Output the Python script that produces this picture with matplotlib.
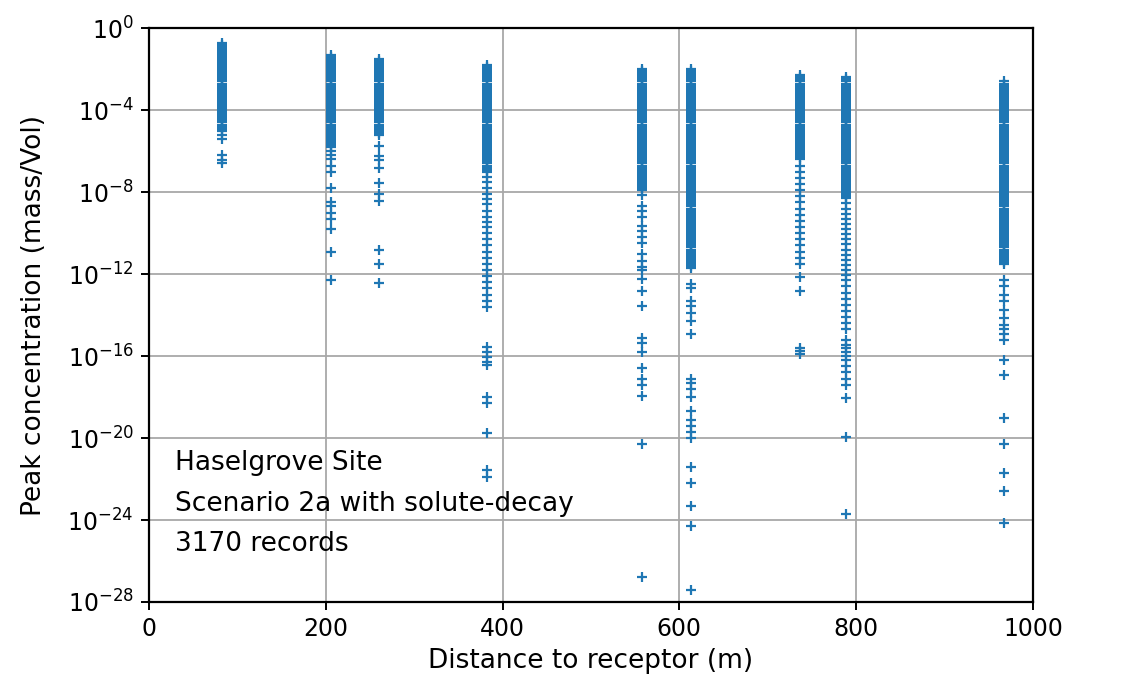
import matplotlib
matplotlib.use("Agg")
import matplotlib.pyplot as plt
from matplotlib.ticker import NullLocator
import numpy as np

# Receptor distances (m) and log10 of the peak concentrations recorded at each
distances = [83, 206, 260, 382, 558, 613, 736, 788, 967]

exp_83 = [-0.7, -0.8, -0.9, -1.0, -1.1, -1.2, -1.3, -1.4, -1.5, -1.6, -1.7, -1.8, -1.9,
          -2.0, -2.1, -2.2, -2.3, -2.4, -2.5, -2.6, -2.7, -2.8, -2.9, -3.0, -3.1, -3.2,
          -3.3, -3.4, -3.5, -3.6, -3.7, -3.8, -3.9, -4.0, -4.1, -4.2, -4.3, -4.4, -4.5,
          -4.6, -4.7, -4.8, -4.9, -5.0, -5.2, -5.4, -6.2, -6.45, -6.6]

exp_206 = [-1.3, -1.4, -1.5, -1.6, -1.7, -1.8, -1.9, -2.0, -2.1, -2.2, -2.3, -2.4, -2.5,
           -2.6, -2.7, -2.8, -2.9, -3.0, -3.1, -3.2, -3.3, -3.4, -3.5, -3.6, -3.7, -3.8,
           -3.9, -4.0, -4.1, -4.2, -4.3, -4.4, -4.5, -4.6, -4.7, -4.8, -4.9, -5.0, -5.1,
           -5.2, -5.3, -5.4, -5.5, -5.6, -5.7, -5.8, -6.0, -6.2, -6.4, -6.7, -7.0, -7.8,
           -8.5, -8.7, -9.0, -9.3, -9.8, -10.9, -12.3]

exp_260 = [-1.5, -1.6, -1.7, -1.8, -1.9, -2.0, -2.1, -2.2, -2.3, -2.4, -2.5, -2.6, -2.7,
           -2.8, -2.9, -3.0, -3.1, -3.2, -3.3, -3.4, -3.5, -3.6, -3.7, -3.8, -3.9, -4.0,
           -4.1, -4.2, -4.3, -4.4, -4.5, -4.6, -4.7, -4.8, -4.9, -5.0, -5.1, -5.2, -5.75,
           -6.25, -6.45, -6.8, -7.55, -8.1, -8.45, -10.8, -11.5, -12.45]

exp_382 = [-1.8, -1.9, -2.0, -2.1, -2.2, -2.3, -2.4, -2.5, -2.6, -2.7, -2.8, -2.9, -3.0,
           -3.1, -3.2, -3.3, -3.4, -3.5, -3.6, -3.7, -3.8, -3.9, -4.0, -4.1, -4.2, -4.3,
           -4.4, -4.5, -4.6, -4.7, -4.8, -4.9, -5.0, -5.1, -5.2, -5.3, -5.4, -5.5, -5.6,
           -5.7, -5.8, -5.9, -6.0, -6.1, -6.2, -6.3, -6.4, -6.5, -6.6, -6.7, -6.8, -6.9,
           -7.0, -7.25, -7.5, -7.8, -8.1, -8.35, -8.6, -8.9, -9.2, -9.45, -9.7, -10.0,
           -10.3, -10.6, -10.9, -11.2, -11.5, -11.8, -12.1, -12.4, -12.7, -13.0, -13.3,
           -13.6, -15.55, -15.8, -16.05, -16.3, -16.45, -18.0, -18.3, -19.75, -21.55, -21.9]

exp_558 = [-2.0, -2.1, -2.2, -2.3, -2.4, -2.5, -2.6, -2.7, -2.8, -2.9, -3.0, -3.1, -3.2,
           -3.3, -3.4, -3.5, -3.6, -3.7, -3.8, -3.9, -4.0, -4.1, -4.2, -4.3, -4.4, -4.5,
           -4.6, -4.7, -4.8, -4.9, -5.0, -5.1, -5.2, -5.3, -5.4, -5.5, -5.6, -5.7, -5.8,
           -5.9, -6.0, -6.1, -6.2, -6.3, -6.4, -6.5, -6.6, -6.7, -6.8, -6.9, -7.0, -7.1,
           -7.2, -7.3, -7.4, -7.5, -7.6, -7.7, -7.8, -7.9, -8.15, -8.7, -8.9, -9.2, -9.65,
           -9.9, -10.2, -10.5, -11.0, -11.35, -11.65, -11.8, -12.25, -12.8, -13.55, -15.1,
           -15.35, -15.8, -16.6, -17.1, -17.4, -17.95, -20.3, -26.8]

exp_613 = [-2.0, -2.1, -2.2, -2.3, -2.4, -2.5, -2.6, -2.7, -2.8, -2.9, -3.0, -3.1, -3.2,
           -3.3, -3.4, -3.5, -3.6, -3.7, -3.8, -3.9, -4.0, -4.1, -4.2, -4.3, -4.4, -4.5,
           -4.6, -4.7, -4.8, -4.9, -5.0, -5.1, -5.2, -5.3, -5.4, -5.5, -5.6, -5.7, -5.8,
           -5.9, -6.0, -6.1, -6.2, -6.3, -6.4, -6.5, -6.6, -6.7, -6.8, -6.9, -7.0, -7.1,
           -7.2, -7.3, -7.4, -7.5, -7.6, -7.7, -7.8, -7.9, -8.0, -8.1, -8.2, -8.3, -8.4,
           -8.5, -8.6, -8.7, -8.8, -8.9, -9.0, -9.1, -9.2, -9.3, -9.4, -9.5, -9.6, -9.7,
           -9.8, -9.9, -10.0, -10.1, -10.2, -10.3, -10.4, -10.5, -10.6, -10.7, -10.8,
           -10.9, -11.0, -11.1, -11.2, -11.3, -11.4, -11.5, -11.6, -11.7, -12.5, -12.7,
           -13.3, -13.55, -13.9, -14.3, -14.9, -17.1, -17.3, -17.6, -18.0, -18.7, -19.1,
           -19.4, -19.7, -20.0, -21.4, -22.2, -23.3, -24.3, -27.4]

exp_736 = [-2.3, -2.4, -2.5, -2.6, -2.7, -2.8, -2.9, -3.0, -3.1, -3.2, -3.3, -3.4, -3.5,
           -3.6, -3.7, -3.8, -3.9, -4.0, -4.1, -4.2, -4.3, -4.4, -4.5, -4.6, -4.7, -4.8,
           -4.9, -5.0, -5.1, -5.2, -5.3, -5.4, -5.5, -5.6, -5.7, -5.8, -5.9, -6.0, -6.1,
           -6.2, -6.3, -6.4, -6.7, -7.0, -7.3, -7.6, -7.9, -8.2, -8.5, -8.8, -9.1, -9.4,
           -9.7, -10.0, -10.3, -10.6, -10.9, -11.2, -11.5, -12.15, -12.8, -15.6, -15.75,
           -15.9]

exp_788 = [-2.4, -2.5, -2.6, -2.7, -2.8, -2.9, -3.0, -3.1, -3.2, -3.3, -3.4, -3.5, -3.6,
           -3.7, -3.8, -3.9, -4.0, -4.1, -4.2, -4.3, -4.4, -4.5, -4.6, -4.7, -4.8, -4.9,
           -5.0, -5.1, -5.2, -5.3, -5.4, -5.5, -5.6, -5.7, -5.8, -5.9, -6.0, -6.1, -6.2,
           -6.3, -6.4, -6.5, -6.6, -6.7, -6.8, -6.9, -7.0, -7.1, -7.2, -7.3, -7.4, -7.5,
           -7.6, -7.7, -7.8, -7.9, -8.0, -8.1, -8.2, -8.3, -8.55, -8.8, -9.05, -9.3, -9.55,
           -9.8, -10.05, -10.3, -10.55, -10.8, -11.05, -11.3, -11.55, -11.8, -12.05, -12.3,
           -12.6, -12.9, -13.2, -13.5, -13.8, -14.1, -14.4, -14.7, -15.2, -15.45, -15.6,
           -15.8, -16.0, -16.2, -16.5, -16.8, -17.1, -17.4, -18.05, -19.95, -23.7]

exp_967 = [-2.6, -2.7, -2.8, -2.9, -3.0, -3.1, -3.2, -3.3, -3.4, -3.5, -3.6, -3.7, -3.8,
           -3.9, -4.0, -4.1, -4.2, -4.3, -4.4, -4.5, -4.6, -4.7, -4.8, -4.9, -5.0, -5.1,
           -5.2, -5.3, -5.4, -5.5, -5.6, -5.7, -5.8, -5.9, -6.0, -6.1, -6.2, -6.3, -6.4,
           -6.5, -6.6, -6.7, -6.8, -6.9, -7.0, -7.1, -7.2, -7.3, -7.4, -7.5, -7.6, -7.7,
           -7.8, -7.9, -8.0, -8.1, -8.2, -8.3, -8.4, -8.5, -8.6, -8.7, -8.8, -8.9, -9.0,
           -9.1, -9.2, -9.3, -9.4, -9.5, -9.6, -9.7, -9.8, -9.9, -10.0, -10.1, -10.2,
           -10.3, -10.4, -10.5, -10.6, -10.7, -10.8, -10.9, -11.0, -11.1, -11.2, -11.3,
           -11.4, -11.5, -12.3, -12.6, -13.0, -13.3, -13.75, -14.15, -14.5, -14.7, -14.9,
           -15.2, -16.2, -16.9, -19.0, -20.3, -21.7, -22.6, -24.15]

exponents = [exp_83, exp_206, exp_260, exp_382, exp_558, exp_613, exp_736, exp_788, exp_967]

x_ticks = [0, 200, 400, 600, 800, 1000]
y_tick_exps = [0, -4, -8, -12, -16, -20, -24, -28]

label_lines = ["Haselgrove Site", "Scenario 2a with solute-decay", "3170 records"]

TICK_FS = 17
LABEL_FS = 19

fig = plt.figure(figsize=(11.37, 6.88), dpi=100)
ax = fig.add_axes([0.131, 0.125, 0.7775, 0.834])

xs = np.concatenate([np.full(len(e), d, dtype=float) for d, e in zip(distances, exponents)])
ys = 10.0 ** np.concatenate([np.asarray(e, dtype=float) for e in exponents])
ax.plot(xs, ys, linestyle="none", marker="+", markersize=7.5, markeredgewidth=1.6,
        color="#1f77b4", zorder=3)

ax.set_yscale("log")
ax.set_xlim(0, 1000)
ax.set_ylim(1e-28, 1e0)
ax.set_xticks(x_ticks)
ax.set_yticks([10.0 ** k for k in y_tick_exps])
ax.yaxis.set_minor_locator(NullLocator())
ax.grid(True, color="#a8a8a8", linewidth=1.3, zorder=0)
ax.set_axisbelow(True)

for s in ax.spines.values():
    s.set_linewidth(1.6)
ax.tick_params(axis="both", labelsize=TICK_FS, length=6, width=1.4, pad=5)

ax.set_xlabel("Distance to receptor (m)", fontsize=LABEL_FS, labelpad=5)
ax.set_ylabel("Peak concentration (mass/Vol)", fontsize=LABEL_FS, labelpad=15)

for yf, line in zip([0.242, 0.171, 0.101], label_lines):
    ax.text(0.029, yf, line, transform=ax.transAxes, fontsize=LABEL_FS,
            va="center", ha="left")

fig.savefig("out.png", dpi=100)
